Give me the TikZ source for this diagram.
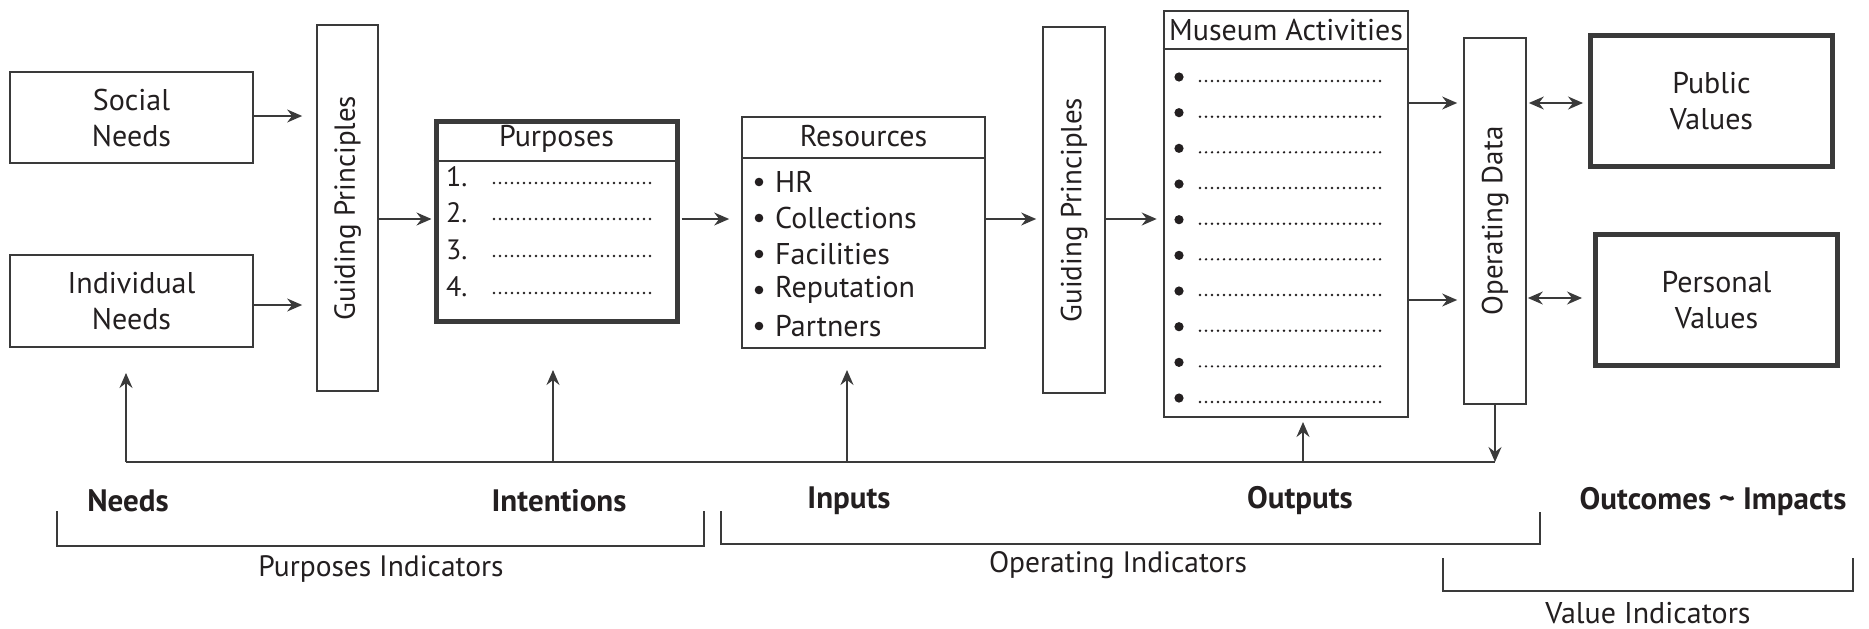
\documentclass[tikz,border=0pt]{standalone}
\usepackage{fontspec}
\setmainfont{PT Sans}
\usetikzlibrary{arrows.meta,calc}
\definecolor{ink}{HTML}{231F20}
\definecolor{ln}{HTML}{3A3A3A}
\newcommand\fsz[2]{\fontsize{#1pt}{#2pt}\selectfont}
\begin{document}
\begin{tikzpicture}[x=1pt,y=-1pt,
  box/.style={draw=ln, line width=1.7pt, inner sep=0pt, align=center, text=ink, font=\fsz{30}{36}},
  thickbox/.style={box, line width=5pt},
  mabox/.style={box, line width=2.6pt},
  tip/.style={-{Stealth[length=15pt,width=13pt,inset=5pt]}},
  arr/.style={draw=ln, line width=1.4pt, tip},
  darr/.style={draw=ln, line width=1.4pt, {Stealth[length=15pt,width=13pt,inset=5pt]}-{Stealth[length=15pt,width=13pt,inset=5pt]}},
  plain/.style={draw=ln, line width=1.4pt},
  brk/.style={draw=ln, line width=1.8pt},
  lbl/.style={text=ink, font=\fsz{29.5}{34}, inner sep=0pt},
  blbl/.style={text=ink, font=\bfseries\fsz{31}{36}, inner sep=0pt},
  title/.style={text=ink, font=\fsz{30}{34}, inner sep=0pt},
  item/.style={text=ink, font=\fsz{30}{34}, inner sep=0pt, anchor=west},
  vtext/.style={text=ink, font=\fsz{29}{34}, inner sep=0pt, rotate=90},
  dotline/.style={draw=ink, line width=2.7pt, dash pattern=on 0pt off 6pt, line cap=round},
  bul/.style={fill=ink, draw=none}]
\useasboundingbox (0,0) rectangle (1869,629);
\fill[white] (0,0) rectangle (1869,629);

% boxes
\node[box, minimum width=243pt, minimum height=91pt] (social) at (131.5,117.5) {Social\\Needs};
\node[box, minimum width=243pt, minimum height=92pt] (indiv) at (131.5,301) {Individual\\Needs};
\node[box, minimum width=61pt, minimum height=366pt] (gp1) at (347.5,208) {};
\node[vtext] (gp1t) at (gp1) {Guiding Principles};
\node[thickbox, minimum width=241pt, minimum height=200pt] (purp) at (556.5,221) {};
\node[box, minimum width=243pt, minimum height=231pt] (res) at (863.5,232.5) {};
\node[box, minimum width=62pt, minimum height=366pt] (gp2) at (1074,210) {};
\node[vtext] (gp2t) at (gp2) {Guiding Principles};
\node[mabox, minimum width=244pt, minimum height=406pt] (ma) at (1286,214) {};
\node[box, minimum width=62pt, minimum height=366pt] (od) at (1495,221) {};
\node[vtext] (odt) at (od) {Operating Data};
\node[thickbox, minimum width=242pt, minimum height=131pt] (pub) at (1711.5,101) {Public\\Values};
\node[thickbox, minimum width=242pt, minimum height=131pt] (pers) at (1716.5,300) {Personal\\Values};

% headers
\draw[line width=1.6pt, draw=ln] (purp.west |- 0,161) -- (purp.east |- 0,161);
\node[title] (purpt) at (556.5,139) {Purposes};
\draw[line width=1.7pt, draw=ln] (res.west |- 0,158) -- (res.east |- 0,158);
\node[title] (rest) at (863.5,136) {Resources};
\draw[line width=1.8pt, draw=ln] (ma.west |- 0,49) -- (ma.east |- 0,49);
\node[title] (mat) at (1286,30) {Museum Activities};

% purposes list
\foreach \n/\y in {1/177,2/213,3/250,4/287}{
  \node[item, font=\fsz{28}{32}] at (446,\y) {\n.};
  \draw[dotline] (494,\y+6) -- (654,\y+6);
}
% resources list
\foreach \t/\y in {HR/182,Collections/218,Facilities/254,Reputation/290,Partners/326}{
  \fill[bul] (759,\y) circle (4.3pt);
  \node[item] at (775,\y) {\t};
}
% museum activities list
\foreach \i in {0,...,9}{
  \pgfmathsetmacro\yy{77+35.67*\i}
  \fill[bul] (1179,\yy) circle (4.6pt);
  \draw[dotline] (1200,\yy+4) -- (1384,\yy+4);
}

% main flow arrows
\coordinate (ra) at (0,116);
\coordinate (rb) at (0,305);
\coordinate (rc) at (0,219);
\coordinate (rd) at (0,103);
\coordinate (re) at (0,300);
\draw[arr, shorten >=14pt] (social.east |- ra) -- (gp1.west |- ra);
\draw[arr, shorten >=14pt] (indiv.east |- rb) -- (gp1.west |- rb);
\draw[arr, shorten >=2pt] (gp1.east |- rc) -- (purp.west |- rc);
\draw[arr, shorten >=12pt, shorten <=2pt] (purp.east |- rc) -- (res.west |- rc);
\draw[arr, shorten >=6pt] (res.east |- rc) -- (gp2.west |- rc);
\draw[arr, shorten >=6pt] (gp2.east |- rc) -- (ma.west |- rc);
\draw[arr, shorten >=6pt] (ma.east |- rd) -- (od.west |- rd);
\draw[arr, shorten >=6pt] (ma.east |- re) -- (od.west |- re);
\draw[darr, shorten <=2pt, shorten >=5pt] (od.east |- rd) -- (pub.west |- rd);
\draw[darr, shorten <=1pt, shorten >=11pt] (od.east |- 0,298) -- (pers.west |- 0,298);

% feedback
\coordinate (fbL) at (126,462);
\coordinate (fbR) at (1495,462);
\coordinate (f2) at (553,462);
\coordinate (f3) at (847,462);
\coordinate (f4) at (1303,462);
\draw[plain] (fbL) -- (fbR);
\draw[arr] (od.south) -- (od.south |- fbR);
\draw[arr] (fbL) -- (126,373);
\draw[arr] (f2) -- (553,370);
\draw[arr] (f3) -- (847,370);
\draw[arr] (f4) -- (1303,422);

% labels
\node[blbl] (lneeds) at (128,501) {Needs};
\node[blbl] (lint) at (559,501) {Intentions};
\node[blbl] (linp) at (849,501) {Inputs};
\node[blbl] (lout) at (1300,501) {Outputs};
\node[blbl] (limp) at (1713,502) {Outcomes \textasciitilde{} Impacts};

% brackets
\draw[brk] (57,511) -- (57,546) -- (704,546) -- (704,511);
\draw[brk] (721,511) -- (721,544) -- (1540,544) -- (1540,512);
\draw[brk] (1443,558) -- (1443,591) -- (1853,591) -- (1853,558);
\node[lbl] (pi) at (381,569) {Purposes Indicators};
\node[lbl] (oi) at (1118,565) {Operating Indicators};
\node[lbl, font=\fsz{30}{34}] (vi) at (1648,613) {Value Indicators};
\end{tikzpicture}
\end{document}
